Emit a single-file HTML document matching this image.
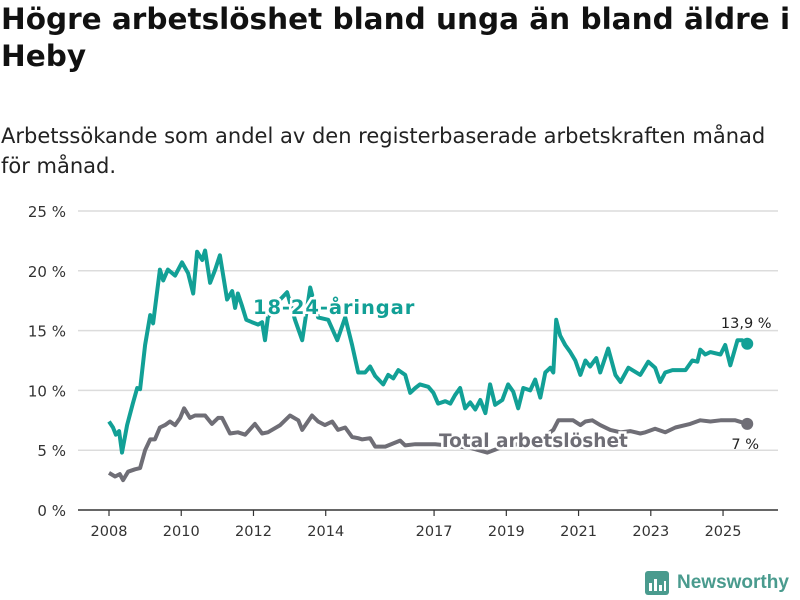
<!DOCTYPE html>
<html><head><meta charset="utf-8"><style>
body{margin:0;width:800px;height:600px;background:#fff;font-family:"DejaVu Sans","Liberation Sans",sans-serif;overflow:hidden;position:relative}
h1{position:absolute;left:1px;top:1px;margin:0;font-size:29.5px;line-height:37px;font-weight:bold;color:#111;width:799px;letter-spacing:0;white-space:nowrap}
.sub{position:absolute;left:1px;top:121px;font-size:21px;line-height:30px;color:#222;width:799px;white-space:nowrap}
svg{position:absolute;left:0;top:0}
</style></head><body>
<h1>Högre arbetslöshet bland unga än bland äldre i<br>Heby</h1>
<div class="sub">Arbetssökande som andel av den registerbaserade arbetskraften månad<br>för månad.</div>
<svg width="800" height="600" id="chart"></svg>
<script>
const yTicks=[0,5,10,15,20,25];
const xTicks=[2008,2010,2012,2014,2017,2019,2021,2023,2025];
const youthDates=[2008,2008.11,2008.19,2008.28,2008.36,2008.5,2008.66,2008.78,2008.86,2009,2009.14,2009.22,2009.41,2009.5,2009.63,2009.83,2010.02,2010.19,2010.33,2010.44,2010.58,2010.66,2010.8,2010.94,2011.07,2011.27,2011.41,2011.49,2011.57,2011.68,2011.8,2011.96,2012.13,2012.24,2012.32,2012.4,2012.74,2012.93,2013.15,2013.35,2013.57,2013.79,2014.07,2014.32,2014.54,2014.73,2014.9,2015.09,2015.23,2015.37,2015.59,2015.73,2015.87,2016.01,2016.2,2016.34,2016.48,2016.61,2016.84,2016.98,2017.11,2017.31,2017.45,2017.58,2017.72,2017.86,2018,2018.14,2018.28,2018.42,2018.55,2018.69,2018.89,2019.05,2019.19,2019.33,2019.47,2019.66,2019.8,2019.94,2020.08,2020.22,2020.3,2020.38,2020.49,2020.63,2020.77,2020.91,2021.05,2021.19,2021.32,2021.49,2021.6,2021.82,2022.02,2022.16,2022.38,2022.71,2022.93,2023.12,2023.26,2023.4,2023.6,2023.96,2024.15,2024.29,2024.37,2024.51,2024.65,2024.93,2025.06,2025.2,2025.4,2025.53,2025.67];
const youthValues=[7.4,6.9,6.3,6.6,4.8,7.1,8.9,10.2,10.1,13.8,16.3,15.6,20.1,19.2,20.1,19.6,20.7,19.8,18.1,21.6,20.9,21.7,19.0,20.1,21.3,17.6,18.3,16.9,18.1,17.1,15.9,15.7,15.5,15.7,14.2,16.1,17.6,18.2,15.9,14.2,18.6,16.1,15.9,14.2,16.1,13.8,11.5,11.5,12.0,11.2,10.5,11.3,11.0,11.7,11.3,9.8,10.2,10.5,10.3,9.8,8.9,9.1,8.9,9.6,10.2,8.5,9.0,8.4,9.2,8.1,10.5,8.8,9.2,10.5,9.9,8.5,10.2,10.0,10.9,9.4,11.5,11.9,11.5,15.9,14.6,13.8,13.2,12.5,11.3,12.5,12.0,12.7,11.5,13.5,11.3,10.7,11.9,11.3,12.4,11.9,10.7,11.5,11.7,11.7,12.5,12.4,13.4,13.0,13.2,13.0,13.8,12.1,14.2,14.2,13.9];
const totalDates=[2008,2008.17,2008.3,2008.39,2008.53,2008.72,2008.86,2009,2009.14,2009.27,2009.41,2009.55,2009.69,2009.83,2009.97,2010.08,2010.24,2010.38,2010.52,2010.66,2010.85,2011.02,2011.13,2011.35,2011.57,2011.77,2012.04,2012.24,2012.4,2012.74,2013.01,2013.24,2013.35,2013.62,2013.79,2013.98,2014.18,2014.34,2014.54,2014.73,2014.9,2015.01,2015.23,2015.37,2015.65,2016.06,2016.2,2016.48,2016.81,2017.03,2018,2018.47,2018.83,2019.94,2020.3,2020.44,2020.63,2020.85,2021.05,2021.19,2021.38,2021.6,2021.88,2022.16,2022.43,2022.71,2022.85,2023.12,2023.4,2023.68,2024.09,2024.37,2024.65,2024.93,2025.34,2025.67];
const totalValues=[3.1,2.8,3.0,2.5,3.2,3.4,3.5,5.0,5.9,5.9,6.9,7.1,7.4,7.1,7.7,8.5,7.7,7.9,7.9,7.9,7.2,7.7,7.7,6.4,6.5,6.3,7.2,6.4,6.5,7.1,7.9,7.5,6.7,7.9,7.4,7.1,7.4,6.7,6.9,6.1,6.0,5.9,6.0,5.3,5.3,5.8,5.4,5.5,5.5,5.5,5.2,4.8,5.2,5.9,6.7,7.5,7.5,7.5,7.1,7.4,7.5,7.1,6.7,6.5,6.6,6.4,6.5,6.8,6.5,6.9,7.2,7.5,7.4,7.5,7.5,7.2];
const NS='http://www.w3.org/2000/svg';
const svg=document.getElementById('chart');
const X0=78,X1=778,Y0=510,Y25=211;
const xs=y=>109+(y-2008)*36.12;
const ys=v=>Y0-(v/25)*(Y0-Y25);
function mk(t,a){const e=document.createElementNS(NS,t);for(const k in a)e.setAttribute(k,a[k]);svg.appendChild(e);return e;}
yTicks.forEach(t=>{
 if(t>0){const g=mk('line',{x1:X0,x2:X1,y1:ys(t),y2:ys(t),stroke:'#dcdcdc','stroke-width':1.5});
 
 }
 const l=mk('text',{x:66,y:ys(t)+6,'text-anchor':'end','font-size':15,fill:'#333'});
 l.textContent=t+' %';
 
 
});
const ax=mk('line',{x1:X0,x2:X1,y1:Y0,y2:Y0,stroke:'#333','stroke-width':1.5});


xTicks.forEach(t=>{
 mk('line',{x1:xs(t),x2:xs(t),y1:Y0,y2:Y0+6,stroke:'#333','stroke-width':1.2});
 const l=mk('text',{x:xs(t),y:Y0+26,'text-anchor':'middle','font-size':14.5,fill:'#333'});
 l.textContent=t;
 
 
});
function path(d,v){return d.map((x,i)=>(i?'L':'M')+xs(x).toFixed(1)+','+ys(v[i]).toFixed(1)).join('');}
const teal='#12a096',gray='#6f6e76';
const tl=mk('path',{d:path(totalDates,totalValues),fill:'none',stroke:gray,'stroke-width':4,'stroke-linejoin':'round'});


const yl=mk('path',{d:path(youthDates,youthValues),fill:'none',stroke:teal,'stroke-width':4,'stroke-linejoin':'round'});


const lt=youthDates.length-1,lT=totalDates.length-1;
const d1=mk('circle',{cx:xs(youthDates[lt]),cy:ys(youthValues[lt]),r:6,fill:teal});


const d2=mk('circle',{cx:xs(totalDates[lT]),cy:ys(totalValues[lT]),r:6,fill:gray});


const v1=mk('text',{x:xs(youthDates[lt])-1,y:ys(youthValues[lt])-16,'text-anchor':'middle','font-size':14.5,fill:'#222'});
v1.textContent=youthValues[lt].toFixed(1).replace('.',',')+' %';


const v2=mk('text',{x:xs(totalDates[lT])-2,y:ys(totalValues[lT])+25,'text-anchor':'middle','font-size':14.5,fill:'#222'});
v2.textContent=Math.round(totalValues[lT])+' %';


const s1=mk('text',{x:253,y:314,'font-size':19.5,'font-weight':'bold',fill:teal,stroke:'#fff','stroke-width':5,'paint-order':'stroke','letter-spacing':'0.9'});
s1.textContent='18-24-åringar';


const s2=mk('text',{x:439,y:447,'font-size':18.5,'font-weight':'bold',fill:gray,stroke:'#fff','stroke-width':5,'paint-order':'stroke','letter-spacing':'0'});
s2.textContent='Total arbetslöshet';


</script>
<div style="position:absolute;left:645px;top:570px;height:26px;display:flex;align-items:center">
<svg width="24" height="24" style="position:static"><rect x="0" y="0" width="24" height="24" rx="3" fill="#4a9b8e"/><rect x="4" y="12" width="3" height="8" fill="#fff"/><rect x="9" y="8" width="3" height="12" fill="#fff"/><rect x="14" y="14" width="3" height="6" fill="#fff"/><rect x="19" y="10" width="2" height="10" fill="#fff"/></svg>
<span style="margin-left:8px;font-size:19px;font-weight:bold;color:#4a9b8e;font-family:'Liberation Sans',sans-serif">Newsworthy</span></div>
</body></html>
